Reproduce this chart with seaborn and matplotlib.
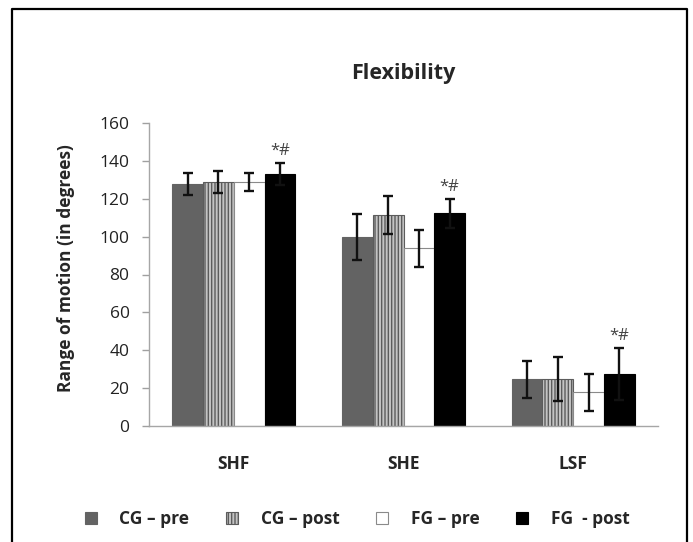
import matplotlib
matplotlib.use("Agg")
import matplotlib.pyplot as plt
from matplotlib.patches import Patch
from matplotlib.lines import Line2D
import seaborn as sns
import pandas as pd

# ---- data ----
categories = ["SHF", "SHE", "LSF"]
groups = ["CG \u2013 pre", "CG \u2013 post", "FG \u2013 pre", "FG  - post"]
cg_pre = [127.8, 99.9, 24.6]
cg_post = [129.0, 111.4, 24.8]
fg_pre = [129.0, 93.8, 17.8]
fg_post = [133.2, 112.3, 27.3]
cg_pre_err = [5.9, 12.3, 9.6]
cg_post_err = [5.7, 10.0, 11.4]
fg_pre_err = [4.8, 9.8, 9.9]
fg_post_err = [5.8, 7.6, 13.7]
sig_label = "*#"
title = "Flexibility"
ylabel = "Range of motion (in degrees)"
yticks = [0, 20, 40, 60, 80, 100, 120, 140, 160]

means = [cg_pre, cg_post, fg_pre, fg_post]
errs = [cg_pre_err, cg_post_err, fg_pre_err, fg_post_err]
rows = []
for g, m, e in zip(groups, means, errs):
    for c, v, ev in zip(categories, m, e):
        rows.append({"measure": c, "group": g, "value": v, "err": ev})
df = pd.DataFrame(rows)

sns.set_style("white")
plt.rcParams["font.family"] = ["Open Sans", "DejaVu Sans"]
plt.rcParams["hatch.linewidth"] = 1.0

styles = [
    dict(facecolor="#636363", edgecolor="#636363", hatch=None),
    dict(facecolor="#c4c4c4", edgecolor="#5c5c5c", hatch="|||||"),
    dict(facecolor="#ffffff", edgecolor="#8a8a8a", hatch=None),
    dict(facecolor="#000000", edgecolor="#000000", hatch=None),
]

fig = plt.figure(figsize=(6.93, 5.42), dpi=100)
W, H = 693, 542
ax = fig.add_axes([149 / W, 1 - 426 / H, (658 - 149) / W, (426 - 123) / H])

sns.barplot(data=df, x="measure", y="value", hue="group", order=categories,
            hue_order=groups, palette=[s["facecolor"] for s in styles],
            width=0.724, gap=0, errorbar=None, legend=False, saturation=1,
            ax=ax)

for cont, st, g in zip(ax.containers, styles, groups):
    xs, ys = [], []
    for p in cont.patches:
        p.set_facecolor(st["facecolor"])
        p.set_edgecolor(st["edgecolor"])
        p.set_linewidth(0.8)
        if st["hatch"]:
            p.set_hatch(st["hatch"])
        xs.append(p.get_x() + p.get_width() / 2)
        ys.append(p.get_height())
    sub = df[df["group"] == g].set_index("measure").loc[categories]
    ax.errorbar(xs, ys, yerr=sub["err"].values, fmt="none", ecolor="#111111",
                elinewidth=1.7, capsize=3.6, capthick=1.7, zorder=5)
    if g == groups[-1]:
        for x, y, e in zip(xs, ys, sub["err"].values):
            ax.annotate(sig_label, (x, y + e), xytext=(0, 3),
                        textcoords="offset points", ha="center", va="bottom",
                        fontsize=12, color="#444444")

ax.set_xlim(-0.5, 2.5)
ax.set_ylim(0, 160)
ax.set_yticks(yticks)
ax.set_yticklabels([str(t) for t in yticks], fontsize=12.5, color="#222222")
ax.set_xticks(range(len(categories)))
ax.set_xticklabels(categories, fontsize=12.5, fontweight="bold")
ax.set_xticks([-0.5, 0.5, 1.5, 2.5], minor=True)
ax.tick_params(axis="x", which="major", length=0, pad=21)
ax.tick_params(axis="x", which="minor", length=5, width=1, color="#a0a0a0",
               direction="out")
ax.tick_params(axis="y", length=5, width=1, color="#a0a0a0", direction="out",
               pad=9, left=True)
ax.set_xlabel("")
ax.set_ylabel(ylabel, fontsize=12.5, fontweight="bold")
ax.yaxis.set_label_coords(-0.145, 0.52)
for s in ["top", "right"]:
    ax.spines[s].set_visible(False)
for s in ["left", "bottom"]:
    ax.spines[s].set_color("#a6a6a6")
    ax.spines[s].set_linewidth(1.0)

fig.text(403 / W, 1 - 73 / H, title, ha="center", va="center",
         fontsize=15.5, fontweight="bold")

handles = [Patch(facecolor=s["facecolor"], edgecolor=s["edgecolor"],
                 hatch=s["hatch"], linewidth=0.8) for s in styles]
fig.legend(handles, groups, loc="center", bbox_to_anchor=(357 / W, 1 - 519 / H),
           ncol=4, frameon=False, prop={"size": 12.5, "weight": "bold"},
           handlelength=0.7, handleheight=0.7, handletextpad=1.3,
           columnspacing=2.1)

fig.add_artist(Line2D([12 / W, 12 / W, 687 / W, 687 / W],
                      [0, 1 - 9 / H, 1 - 9 / H, 0],
                      transform=fig.transFigure, color="black", lw=1.6))

fig.savefig("out.png", dpi=100)
